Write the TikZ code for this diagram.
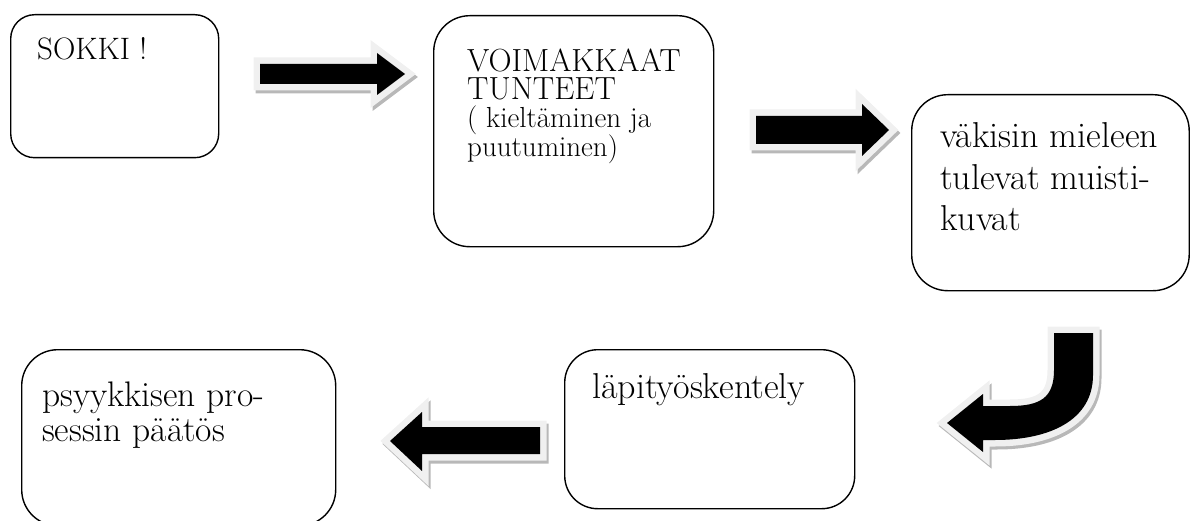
\documentclass[tikz,border=0pt]{standalone}
\usepackage{fontspec}
\begin{document}
\begin{tikzpicture}[x=1pt,y=-1pt,
  box/.style={draw=black, line width=1.4pt, rounded corners=#1, inner sep=0pt, anchor=north west, rectangle},
  box/.default=30pt,
  txtS/.style={anchor=base west, inner sep=0pt, font=\fontsize{31}{33}\selectfont},
  txtA/.style={anchor=base west, inner sep=0pt, font=\fontsize{32}{33}\selectfont},
  txtL/.style={anchor=base west, inner sep=0pt, font=\fontsize{29}{31}\selectfont},
  txtB/.style={anchor=base west, inner sep=0pt, font=\fontsize{36}{40}\selectfont},
  txtC/.style={anchor=base west, inner sep=0pt, font=\fontsize{35.5}{38}\selectfont},
  arrshadow/.style={draw=black!28, fill=black!28, line width=13pt, line join=miter},
  arrrim/.style={draw=black!6, fill=black!6, line width=13pt, line join=miter},
  arrbody/.style={fill=black}]
\path[use as bounding box] (0,0) rectangle (1190,521);
\clip (0,0) rectangle (1190,521);

\newcommand\bevelarrow[1]{%
  \draw[arrshadow, shift={(2,3)}] #1;
  \draw[arrrim] #1;
  \fill[arrbody] #1;
}

% boxes
\node[box=24pt, minimum width=208pt, minimum height=143pt] (b1) at (10,14) {};
\node[box=36pt, minimum width=280pt, minimum height=231pt] (b2) at (433,15) {};
\node[box=36pt, minimum width=277.5pt, minimum height=196pt] (b3) at (911,94) {};
\node[box=33pt, minimum width=290pt, minimum height=159pt] (b4) at (564,349) {};
\node[box=36pt, minimum width=314pt, minimum height=176pt] (b5) at (21,349) {};

% texts
\node[txtS] (t1) at (37,60) {SOKKI !};
\node[txtA] (t2a) at (467,72) {VOIMAKKAAT};
\node[txtA] (t2b) at (467,100) {TUNTEET};
\node[txtL] (t2c) at (467,128) {( kieltäminen ja};
\node[txtL] (t2d) at (467,157) {puutuminen)};
\node[txtB] (t3a) at (940,148) {väkisin mieleen};
\node[txtB] (t3b) at (940,190) {tulevat muisti-};
\node[txtB] (t3c) at (940,231) {kuvat};
\node[txtB] (t4) at (592,398) {läpityöskentely};
\node[txtC] (t5a) at (42,406) {psyykkisen pro-};
\node[txtC] (t5b) at (42,441) {sessin päätös};

% block arrows
\bevelarrow{(260,64) -- (377,64) -- (377,53) -- (405,74) -- (377,95) -- (377,84) -- (260,84) -- cycle}
\bevelarrow{(756,116) -- (862,116) -- (862,104) -- (889,130) -- (862,156) -- (862,144) -- (756,144) -- cycle}
\bevelarrow{(540,427) -- (422,427) -- (422,412) -- (390,441) -- (422,471) -- (422,454) -- (540,454) -- cycle}
\bevelarrow{(1054,333) -- (1093,333) -- (1093,375) .. controls (1093,420) and (1050,440) .. (995,440) -- (983,440) -- (983,452) -- (947,423) -- (983,394) -- (983,406) -- (1010,406) .. controls (1040,406) and (1054,398) .. (1054,370) -- cycle}
\end{tikzpicture}
\end{document}
